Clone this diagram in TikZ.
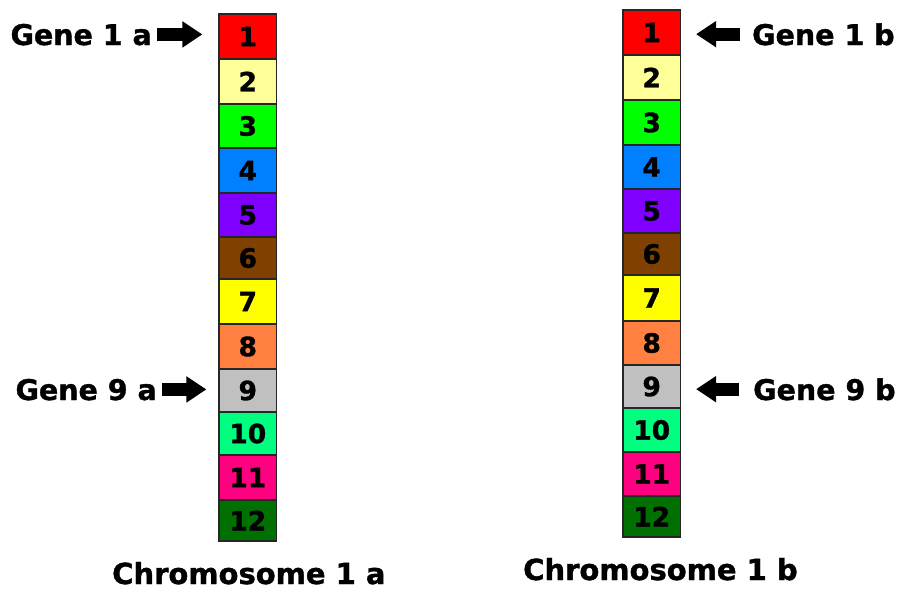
\documentclass[tikz,border=0pt]{standalone}
\usepackage{fontspec}
\setmainfont{DejaVu Sans}
\newfontfamily\heavyfont{DejaVu Sans Bold}[FakeBold=1.2]
\usetikzlibrary{arrows.meta}

% band colours
\definecolor{band1}{HTML}{FF0000}
\definecolor{band2}{HTML}{FFFF99}
\definecolor{band3}{HTML}{00FF00}
\definecolor{band4}{HTML}{0080FF}
\definecolor{band5}{HTML}{8000FF}
\definecolor{band6}{HTML}{804000}
\definecolor{band7}{HTML}{FFFF00}
\definecolor{band8}{HTML}{FF8040}
\definecolor{band9}{HTML}{C0C0C0}
\definecolor{band10}{HTML}{00FF80}
\definecolor{band11}{HTML}{FF0080}
\definecolor{band12}{HTML}{007000}

\tikzset{
  genebox/.style={draw=black!85, line width=1.3pt, rectangle, inner sep=0pt,
    minimum width=57.5pt, font=\heavyfont\fontsize{26.5}{26.5}\selectfont},
  genelabel/.style={inner sep=0pt, text depth=0pt,
    font=\heavyfont\fontsize{28.5}{28.5}\selectfont},
  chromlabel/.style={inner sep=0pt, text depth=0pt,
    font=\heavyfont\fontsize{29}{29}\selectfont},
  blockarrow/.style={line width=13pt,
    -{Triangle[length=20pt, width=25pt]}}
}

\begin{document}
\begin{tikzpicture}[x=1pt, y=-1pt]
  \useasboundingbox (0,0) rectangle (899,590);

  % chromosome 1 a: band number / top edge / bottom edge
  \foreach \i/\t/\b in {1/14/59, 2/59/104, 3/104/148, 4/148/193, 5/193/237,
      6/237/279, 7/279/324, 8/324/369, 9/369/412, 10/412/455, 11/455/500,
      12/500/541}
    \node[genebox, fill=band\i, minimum height={\b-\t}] (a\i)
      at (247.8, {(\t+\b)/2}) {\i};

  % chromosome 1 b
  \foreach \i/\t/\b in {1/10/55, 2/55/100, 3/100/145, 4/145/189, 5/189/233,
      6/233/275, 7/275/321, 8/321/365, 9/365/408, 10/408/452, 11/452/496,
      12/496/537}
    \node[genebox, fill=band\i, minimum height={\b-\t}] (b\i)
      at (651.7, {(\t+\b)/2}) {\i};

  % gene labels
  \node[genelabel, anchor=base east] (g1a) at (152,45) {Gene 1 a};
  \node[genelabel, anchor=base east] (g9a) at (157,400) {Gene 9 a};
  \node[genelabel, anchor=base west] (g1b) at (752,45) {Gene 1 b};
  \node[genelabel, anchor=base west] (g9b) at (753,400) {Gene 9 b};

  % arrows pointing at the genes
  \draw[blockarrow, shorten <=5pt, shorten >=16pt] (g1a.east) -- (g1a.east -| a1.west);
  \draw[blockarrow, shorten <=5pt, shorten >=12pt] (g9a.east) -- (g9a.east -| a9.west);
  \draw[blockarrow, shorten <=12pt, shorten >=15pt] (g1b.west) -- (g1b.west -| b1.east);
  \draw[blockarrow, shorten <=14pt, shorten >=15pt] (g9b.west) -- (g9b.west -| b9.east);

  % chromosome names
  \node[chromlabel, anchor=base west] (ca) at (112,584) {Chromosome 1 a};
  \node[chromlabel, anchor=base west] (cb) at (523,580) {Chromosome 1 b};
\end{tikzpicture}
\end{document}
